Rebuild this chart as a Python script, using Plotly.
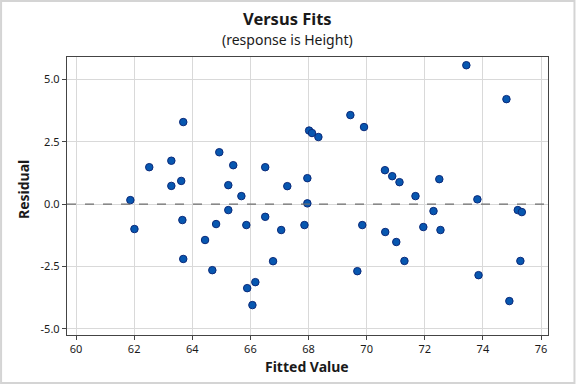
import plotly.graph_objects as go

fitted = [61.87, 62.01, 62.52, 63.28, 63.28, 63.62, 63.69, 63.66, 63.69, 64.44,
          64.69, 64.82, 64.93, 65.24, 65.24, 65.41, 65.69, 65.86, 65.89, 66.07,
          66.17, 66.51, 66.51, 66.78, 67.06, 67.27, 67.86, 67.96, 67.96, 68.02,
          68.12, 68.34, 69.44, 69.68, 69.85, 69.91, 70.63, 70.64, 70.88, 71.02,
          71.13, 71.30, 71.68, 71.95, 72.30, 72.50, 72.54, 73.43, 73.81, 73.85,
          74.81, 74.91, 75.20, 75.34, 75.29]
residual = [0.16, -1.00, 1.48, 1.74, 0.73, 0.93, 3.29, -0.64, -2.20, -1.44,
            -2.65, -0.80, 2.08, 0.76, -0.24, 1.56, 0.32, -0.84, -3.37, -4.05,
            -3.13, 1.48, -0.51, -2.29, -1.04, 0.72, -0.84, 1.04, 0.03, 2.95,
            2.85, 2.69, 3.57, -2.69, -0.84, 3.09, 1.36, -1.12, 1.12, -1.52,
            0.88, -2.28, 0.32, -0.92, -0.28, 1.00, -1.04, 5.57, 0.19, -2.85,
            4.21, -3.89, -0.24, -0.32, -2.28]

x_ticks = [60, 62, 64, 66, 68, 70, 72, 74, 76]
y_ticks = [5.0, 2.5, 0.0, -2.5, -5.0]
y_tick_labels = ["5.0", "2.5", "0.0", "-2.5", "-5.0"]

FONT = "Noto Sans"
TXT = "#1a1a1a"

fig = go.Figure()
fig.add_trace(go.Scatter(
    x=fitted, y=residual, mode="markers",
    marker=dict(size=7.5, color="#0757b0", line=dict(color="#0b2a7a", width=1)),
    hoverinfo="x+y", showlegend=False,
))

fig.add_hline(y=0, line=dict(color="#6e6e6e", width=1.3, dash="dash"))

W, H = 576, 384
L, R, T, B = 67, 27.5, 57, 49
pw, ph = W - L - R, H - T - B

def px_x(p):
    return (p - L) / pw

def px_y(p):
    return (H - B - p) / ph

# outer light border around whole image
fig.add_shape(type="rect", xref="paper", yref="paper",
              x0=px_x(1), x1=px_x(W - 1), y0=px_y(H - 1), y1=px_y(1),
              line=dict(color="#d4d4d4", width=2), layer="below")

annots = [
    dict(text="<b>Versus Fits</b>", x=px_x(288), y=px_y(18.5), size=16.5, angle=0),
    dict(text="(response is Height)", x=px_x(288), y=px_y(40), size=14, angle=0),
    dict(text="<b>Fitted Value</b>", x=px_x(307.5), y=px_y(366), size=14, angle=0),
    dict(text="<b>Residual</b>", x=px_x(23), y=px_y(190), size=14, angle=-90),
]
for a in annots:
    fig.add_annotation(text=a["text"], x=a["x"], y=a["y"], xref="paper", yref="paper",
                       xanchor="center", yanchor="middle", showarrow=False,
                       textangle=a["angle"], font=dict(size=a["size"], family=FONT, color=TXT))

fig.update_layout(
    width=W, height=H,
    margin=dict(l=L, r=R, t=T, b=B, autoexpand=False),
    paper_bgcolor="white", plot_bgcolor="white",
    font=dict(family=FONT, color=TXT, size=11),
    xaxis=dict(
        range=[59.69, 76.24], tickvals=x_ticks, automargin=False,
        showgrid=True, gridcolor="#d9d9d9", gridwidth=1,
        zeroline=False, showline=True, linecolor="#444", linewidth=1.3, mirror=True,
        ticks="outside", ticklen=4, tickcolor="#444",
        tickfont=dict(size=11, family=FONT, color=TXT),
    ),
    yaxis=dict(
        range=[-5.25, 5.9], tickvals=y_ticks, ticktext=y_tick_labels, automargin=False,
        showgrid=True, gridcolor="#d9d9d9", gridwidth=1,
        zeroline=False, showline=True, linecolor="#444", linewidth=1.3, mirror=True,
        ticks="outside", ticklen=4, tickcolor="#444",
        tickfont=dict(size=11, family=FONT, color=TXT),
    ),
)

fig.write_html("out.html", config={"displayModeBar": False},
               post_script="document.body.style.margin='0';document.body.style.overflow='hidden';")
